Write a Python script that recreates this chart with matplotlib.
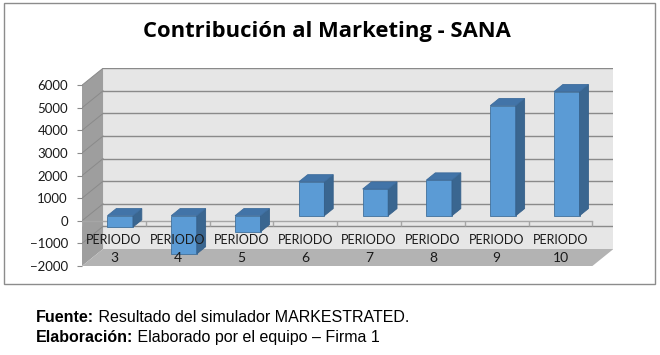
import matplotlib.pyplot as plt
from matplotlib.patches import Polygon, Rectangle
import numpy as np

plt.rcParams['font.family'] = ['Lato', 'DejaVu Sans']

# data
periodos = ['3', '4', '5', '6', '7', '8', '9', '10']
contribucion = [-500, -1690, -710, 1500, 1180, 1580, 4870, 5490]
y_ticks = [-2000, -1000, 0, 1000, 2000, 3000, 4000, 5000, 6000]

titulo = 'Contribución al Marketing - SANA'
etiqueta = 'PERIODO'
notas = [('Fuente:', ' Resultado del simulador MARKESTRATED.'),
         ('Elaboración:', ' Elaborado por el equipo – Firma 1')]

# fake 3d: depth offset of the back wall, in data units
DX = 0.33
DY = 752
d0 = 0.30   # depth of bar front faces
bd = 0.42   # bar depth
w = 0.40

ymin, ymax = y_ticks[0], y_ticks[-1]
n = len(periodos)
x = np.arange(n)

W, H = 660, 355
fig = plt.figure(figsize=(W/100, H/100), dpi=100)
ax = fig.add_axes([82/W, 89/H, (n+DX)*63.8/W, (ymax-ymin+DY)*0.0226/H])
ax.set_xlim(-0.5, n-0.5+DX)
ax.set_ylim(ymin, ymax+DY)
for s in ax.spines.values():
    s.set_visible(False)
ax.set_xticks([])
ax.set_yticks(y_ticks)
ax.tick_params(axis='y', length=3.6, width=0.8, color='#8a8a8a', pad=6.5,
               labelsize=9.5, labelcolor='#1a1a1a')

# walls and floor
xl, xr = -0.5, n-0.5
ax.add_patch(Polygon([(xl+DX, ymin+DY), (xr+DX, ymin+DY), (xr+DX, ymax+DY), (xl+DX, ymax+DY)],
                     fc='#e6e6e6', ec='none', zorder=0))
ax.add_patch(Polygon([(xl, ymin), (xl+DX, ymin+DY), (xl+DX, ymax+DY), (xl, ymax)],
                     fc='#9e9e9e', ec='none', zorder=1.5))
ax.add_patch(Polygon([(xl, ymin), (xr, ymin), (xr+DX, ymin+DY), (xl+DX, ymin+DY)],
                     fc='#b3b3b3', ec='none', zorder=1.5))

for v in y_ticks[1:]:
    ax.plot([xl+DX, xr+DX], [v+DY, v+DY], color='#8a8a8a', lw=1, zorder=1)
    ax.plot([xl, xl+DX], [v, v+DY], color='#8a8a8a', lw=0.7, zorder=2)

# category axis at 0
ax.plot([xl, xr], [0, 0], color='#a6a6a6', lw=1, zorder=2.5)
ax.vlines(np.arange(n+1)-0.5, -220, 0, color='#a6a6a6', lw=1, zorder=2.5)

# bars
ox, oy = d0*DX, d0*DY
ax.bar(x+ox, contribucion, width=w, bottom=oy, color='#5b9bd5',
       edgecolor='#41719c', lw=0.6, zorder=4)
for xi, v in zip(x, contribucion):
    top, bot = max(v, 0)+oy, min(v, 0)+oy
    x0, x1 = xi+ox-w/2, xi+ox+w/2
    ax.add_patch(Polygon([(x1, bot), (x1+bd*DX, bot+bd*DY), (x1+bd*DX, top+bd*DY), (x1, top)],
                         fc='#3a6690', ec='#35608a', lw=0.6, zorder=4))
    ax.add_patch(Polygon([(x0, top), (x1, top), (x1+bd*DX, top+bd*DY), (x0+bd*DX, top+bd*DY)],
                         fc='#4274a8', ec='#3d6c9c', lw=0.6, zorder=4))

for xi, p in zip(x, periodos):
    ax.text(xi, -858, etiqueta, ha='center', va='center', fontsize=9, color='#1a1a1a', zorder=5)
    ax.text(xi, -1668, p, ha='center', va='center', fontsize=10, color='#1a1a1a', zorder=5)

fig.text(327/W, 1-37.3/H, titulo, ha='center', va='baseline',
         fontsize=15.8, fontweight='bold', family=['Open Sans', 'DejaVu Sans'], color='black')

fig.add_artist(Rectangle((3.5/W, 1-284.3/H), 651.5/W, 281/H, transform=fig.transFigure,
                         fill=False, ec='#8c8c8c', lw=1))

# footnote, bold lead + regular text
fig.canvas.draw()
r = fig.canvas.get_renderer()
for i, (b, t) in enumerate(notas):
    yb = 1-(322.5+19.4*i)/H
    tb = fig.text(35.5/W, yb, b, fontweight='bold', fontsize=11.5,
                  family='Liberation Sans', va='baseline')
    bb = tb.get_window_extent(renderer=r)
    fig.text(bb.x1/W, yb, t, fontsize=11.5, family='Liberation Sans', va='baseline')

fig.savefig('out.png', dpi=100)
